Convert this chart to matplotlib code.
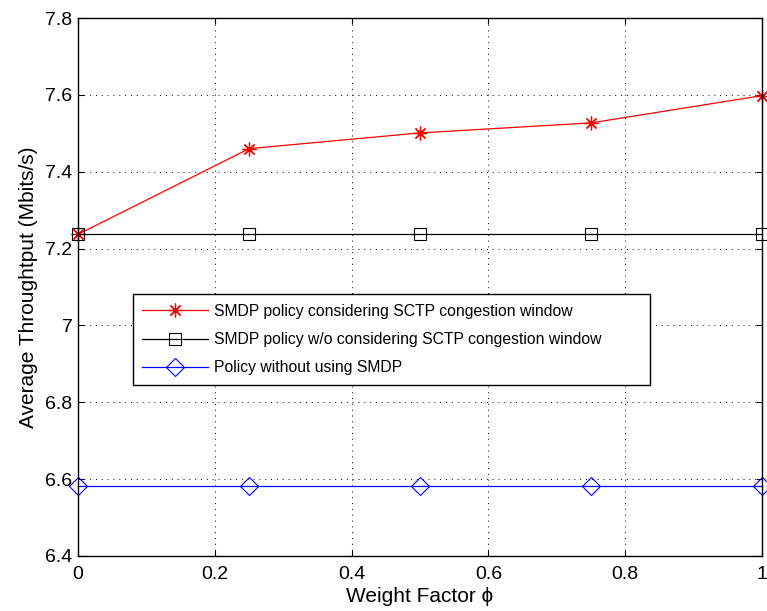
import numpy as np
import matplotlib
matplotlib.use("Agg")
import matplotlib.pyplot as plt

plt.rcParams['font.family'] = ['Liberation Sans', 'DejaVu Sans']

WEIGHT = [0, 0.25, 0.5, 0.75, 1.0]
SMDP_CWND = [7.237, 7.460, 7.501, 7.527, 7.598]
SMDP_NO_CWND = [7.237, 7.237, 7.237, 7.237, 7.237]
NO_SMDP = [6.582, 6.582, 6.582, 6.582, 6.582]

X_TICKS = [0, 0.2, 0.4, 0.6, 0.8, 1.0]
X_LABELS = ["0", "0.2", "0.4", "0.6", "0.8", "1"]
Y_TICKS = [6.4, 6.6, 6.8, 7.0, 7.2, 7.4, 7.6, 7.8]
Y_LABELS = ["6.4", "6.6", "6.8", "7", "7.2", "7.4", "7.6", "7.8"]

LABELS = ["SMDP policy considering SCTP congestion window",
          "SMDP policy w/o considering SCTP congestion window",
          "Policy without using SMDP"]

fig = plt.figure(figsize=(7.67, 6.11), dpi=100)
ax = fig.add_axes([78 / 767, 55 / 611, 684 / 767, 538 / 611])

ax.plot(WEIGHT, SMDP_CWND, color="red", marker=(8, 2, 0), markersize=10,
        markeredgewidth=0.9, linewidth=0.9, label=LABELS[0], clip_on=False)
ax.plot(WEIGHT, SMDP_NO_CWND, color="black", marker="s", markersize=9,
        markerfacecolor="none", markeredgewidth=0.8, linewidth=0.9,
        label=LABELS[1], clip_on=False)
ax.plot(WEIGHT, NO_SMDP, color="blue", marker="D", markersize=9,
        markerfacecolor="none", markeredgewidth=0.8, linewidth=0.9,
        label=LABELS[2], clip_on=False)

ax.set_xlim(0, 1)
ax.set_ylim(6.4, 7.8)
ax.set_xticks(X_TICKS)
ax.set_xticklabels(X_LABELS)
ax.set_yticks(Y_TICKS)
ax.set_yticklabels(Y_LABELS)
ax.tick_params(direction="in", labelsize=14, length=4, top=True, right=True)
ax.tick_params(axis="x", pad=7)
ax.tick_params(axis="y", pad=4)
ax.grid(True, color="black", linestyle=(0, (1, 5)), linewidth=0.7)
for s in ax.spines.values():
    s.set_linewidth(1.0)

ax.set_xlabel("Weight Factor \u03d5", fontsize=15, labelpad=3)
ax.set_ylabel("Average Throughtput (Mbits/s)", fontsize=15, labelpad=5)

leg = ax.legend(loc="lower left", bbox_to_anchor=(0.08, 0.318, 0.756, 0.167),
                mode="expand", fontsize=11.3, fancybox=False, framealpha=1,
                edgecolor="black", handlelength=4.2, handletextpad=0.4,
                borderpad=0.6, labelspacing=0.85, borderaxespad=0)
leg.get_frame().set_linewidth(1.0)

fig.savefig("out.png", dpi=100, facecolor="white")
